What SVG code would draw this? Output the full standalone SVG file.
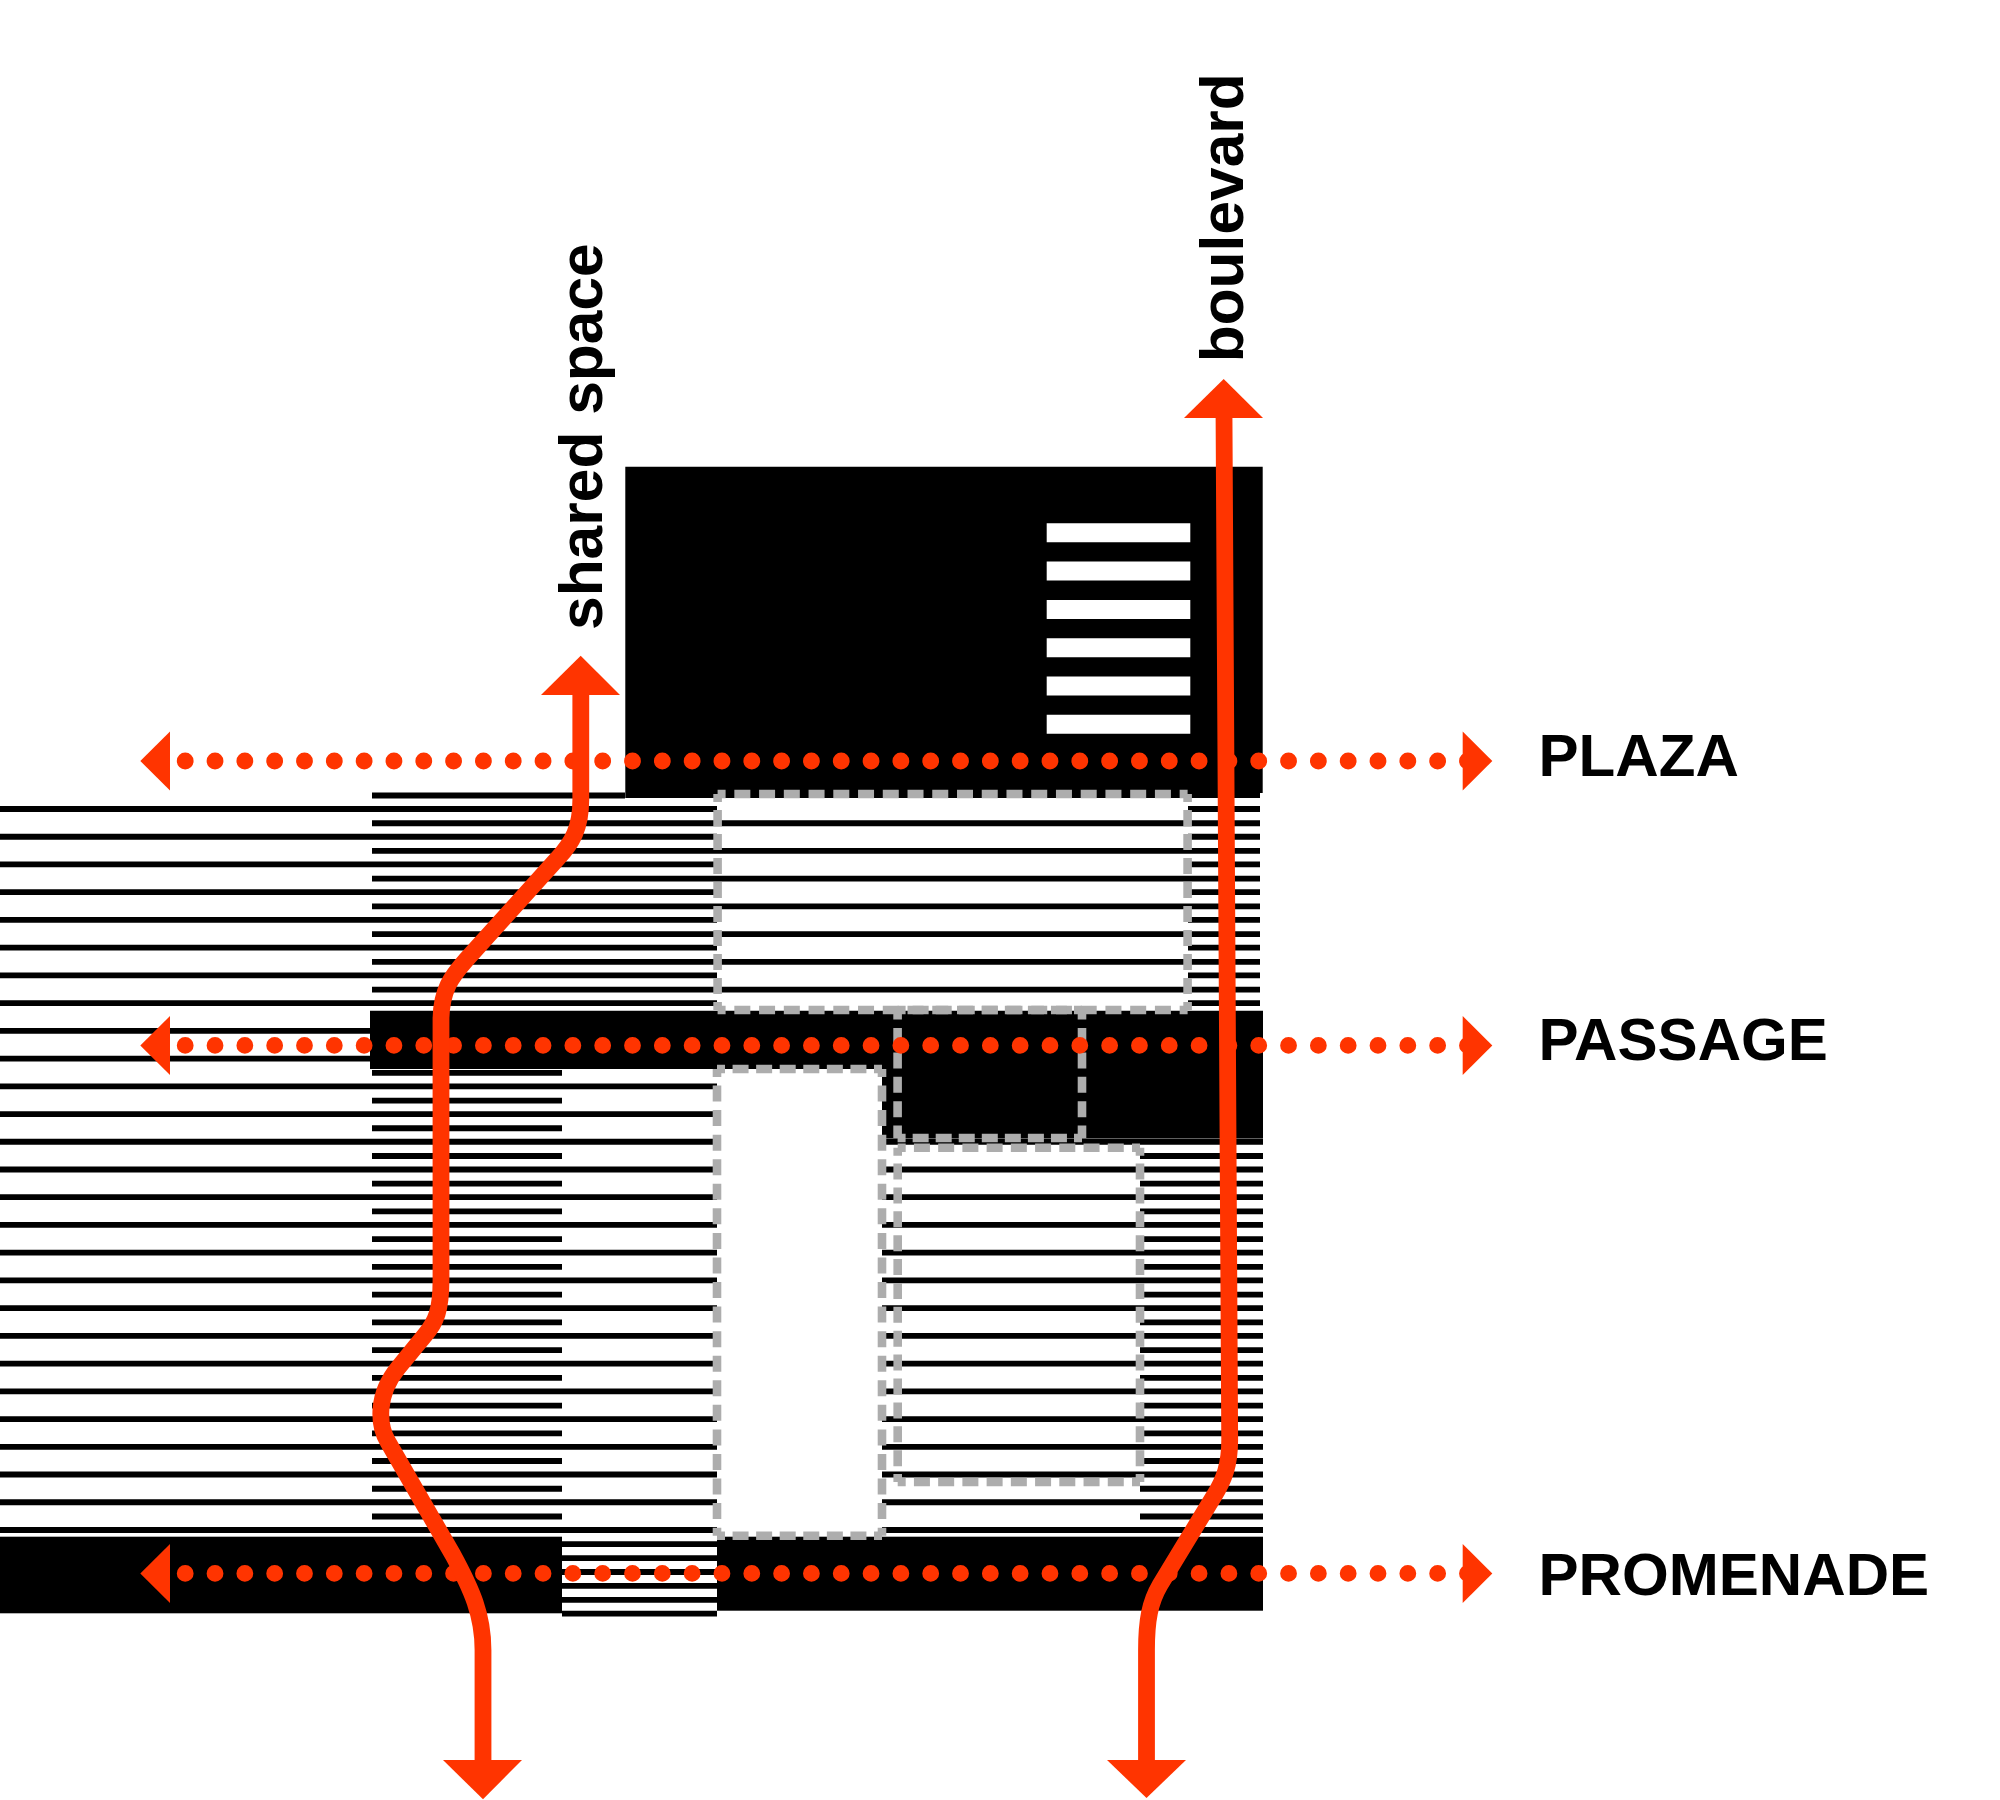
<svg xmlns="http://www.w3.org/2000/svg" width="2000" height="1800" viewBox="0 0 2000 1800">
<style>
.ln{fill:none;stroke:#000;stroke-width:5.8}
.blk{fill:#000;stroke:none}
.wht{fill:#fff;stroke:none}
.gd{fill:none;stroke:#adadad;stroke-width:8.6;stroke-dashoffset:8}
.dots{fill:none;stroke:#ff3400;stroke-width:16.8;stroke-linecap:round;stroke-dasharray:0 29.82}
.route{fill:none;stroke:#ff3400;stroke-width:16.8;stroke-linejoin:round}
.head{fill:#ff3400;stroke:none}
.lbl{font-family:"Liberation Sans",Arial,sans-serif;font-weight:700;font-size:60.5px;fill:#000}
.cap{font-size:60.1px}
</style>
<rect width="2000" height="1800" fill="#fff"/>
<g id="stripes">
<path class="ln" d="M0 809H717M1188 809H1260M0 836.73H717M1188 836.73H1260M0 864.46H717M1188 864.46H1260M0 892.19H717M1188 892.19H1260M0 919.92H717M1188 919.92H1260M0 947.65H717M1188 947.65H1260M0 975.38H717M1188 975.38H1260M0 1003.11H717M1188 1003.11H1260M0 1030.84H717M0 1058.57H717"/>
<path class="ln" d="M0 1086.3H717M882 1086.3H1263M0 1114.03H717M882 1114.03H1263M0 1141.76H717M882 1141.76H1263M0 1169.49H717M882 1169.49H1263M0 1197.22H717M882 1197.22H1263M0 1224.95H717M882 1224.95H1263M0 1252.68H717M882 1252.68H1263M0 1280.41H717M882 1280.41H1263M0 1308.14H717M882 1308.14H1263M0 1335.87H717M882 1335.87H1263M0 1363.6H717M882 1363.6H1263M0 1391.33H717M882 1391.33H1263M0 1419.06H717M882 1419.06H1263M0 1446.79H717M882 1446.79H1263M0 1474.52H717M882 1474.52H1263M0 1502.25H717M882 1502.25H1263M0 1529.98H717M882 1529.98H1263"/>
<path class="ln" d="M372 795.5H625M372 823.23H1260M372 850.96H1260M372 878.69H1260M372 906.42H1260M372 934.15H1260M372 961.88H1260M372 989.61H1260"/>
<path class="ln" d="M372 1072.8H562M372 1100.53H562M372 1128.26H562M372 1155.99H562M1140 1155.99H1263M372 1183.72H562M1140 1183.72H1263M372 1211.45H562M1140 1211.45H1263M372 1239.18H562M1140 1239.18H1263M372 1266.91H562M1140 1266.91H1263M372 1294.64H562M1140 1294.64H1263M372 1322.37H562M1140 1322.37H1263M372 1350.1H562M1140 1350.1H1263M372 1377.83H562M1140 1377.83H1263M372 1405.56H562M1140 1405.56H1263M372 1433.29H562M1140 1433.29H1263M372 1461.02H562M1140 1461.02H1263M372 1488.75H562M1140 1488.75H1263M372 1516.48H562M1140 1516.48H1263"/>
<path class="ln" d="M562 1544.2H717M562 1558.1H717M562 1572H717M562 1585.9H717M562 1599.8H717M562 1613.7H717"/>
</g>
<g id="plaza-block">
<path class="blk" d="M625.3 466.7H1262.7V793H1260V798H625.3Z"/>
<path class="wht" d="M1046.7 523.3h143.6v19h-143.6ZM1046.7 561.6h143.6v19h-143.6ZM1046.7 599.9h143.6v19h-143.6ZM1046.7 638.2h143.6v19h-143.6ZM1046.7 676.5h143.6v19h-143.6ZM1046.7 714.8h143.6v19h-143.6Z"/>
</g>
<g id="passage-block"><path class="blk" d="M370 1010.7H1263V1138.5H882V1069H370Z"/></g>
<g id="promenade-block">
<rect class="blk" x="0" y="1536.7" width="562" height="76.6"/>
<rect class="blk" x="717" y="1536.7" width="546" height="74"/>
</g>
<g id="dashed-areas">
<g id="area-upper">
<path class="gd" stroke-dasharray="16 8.74" d="M717.6 794H1187.6M717.6 1010H1187.6"/>
<path class="gd" stroke-dasharray="16 8" d="M717.6 794V1010M1187.6 794V1010"/>
</g>
<g id="area-passage">
<path class="gd" stroke-dasharray="16 7.05" d="M897.6 1010H1082M897.6 1138H1082"/>
<path class="gd" style="stroke-dashoffset:6.4" stroke-dasharray="16 8.4" d="M897.6 1010V1138M1082 1010V1138"/>
</g>
<g id="area-tall">
<path class="gd" stroke-dasharray="16 7.57" d="M717 1069H882M717 1535.7H882"/>
<path class="gd" stroke-dasharray="16 8.56" d="M717 1069V1535.7M882 1069V1535.7"/>
</g>
<g id="area-lower">
<path class="gd" stroke-dasharray="16 8.23" d="M897.7 1147.7H1140M897.7 1482H1140"/>
<path class="gd" stroke-dasharray="16 7.88" d="M897.7 1147.7V1482M1140 1147.7V1482"/>
</g>
</g>
<g id="connectors">
<g id="plaza-route">
<line class="dots" x1="185.2" y1="761" x2="1470" y2="761"/>
<polygon class="head" points="140.3,761 170,731.5 170,790.5"/>
<polygon class="head" points="1492.3,761 1462.7,731.5 1462.7,790.5"/>
</g>
<g id="passage-route">
<line class="dots" x1="185.2" y1="1045.4" x2="1470" y2="1045.4"/>
<polygon class="head" points="140.3,1045.4 170,1016 170,1075"/>
<polygon class="head" points="1492.3,1045.4 1462.7,1016 1462.7,1075"/>
</g>
<g id="promenade-route">
<line class="dots" x1="185.2" y1="1573.4" x2="1470" y2="1573.4"/>
<polygon class="head" points="140.3,1573.4 170,1544 170,1603"/>
<polygon class="head" points="1492.3,1573.4 1462.7,1544 1462.7,1603"/>
</g>
<g id="shared-space-route">
<path class="route" d="M580.8 690V800C580.8 828 572 843 558 858L466 960C452 976 441 990 441 1020V1280C441 1310 436 1322 425 1335L398 1368C376 1395 378 1425 388 1442L453 1555C472 1590 483 1615 483 1650V1765"/>
<polygon class="head" points="580.7,655.7 541,695 620,695"/>
<polygon class="head" points="483,1799.3 443,1760 522,1760"/>
</g>
<g id="boulevard-route">
<path class="route" d="M1224 413L1229.7 1440C1229.7 1465 1224 1480 1214 1496L1160 1585C1150 1602 1146.5 1620 1146.5 1650V1765"/>
<polygon class="head" points="1223.7,379 1184,418 1263,418"/>
<polygon class="head" points="1146.5,1798 1107,1760 1186,1760"/>
</g>
</g>
<g id="labels">
<text class="lbl" transform="translate(601.7 630) rotate(-90)">shared space</text>
<text class="lbl" transform="translate(1242.7 362.3) rotate(-90)">boulevard</text>
<text class="lbl cap" x="1538.5" y="776">PLAZA</text>
<text class="lbl cap" x="1538.5" y="1060">PASSAGE</text>
<text class="lbl cap" x="1538.5" y="1594.5">PROMENADE</text>
</g>
</svg>
